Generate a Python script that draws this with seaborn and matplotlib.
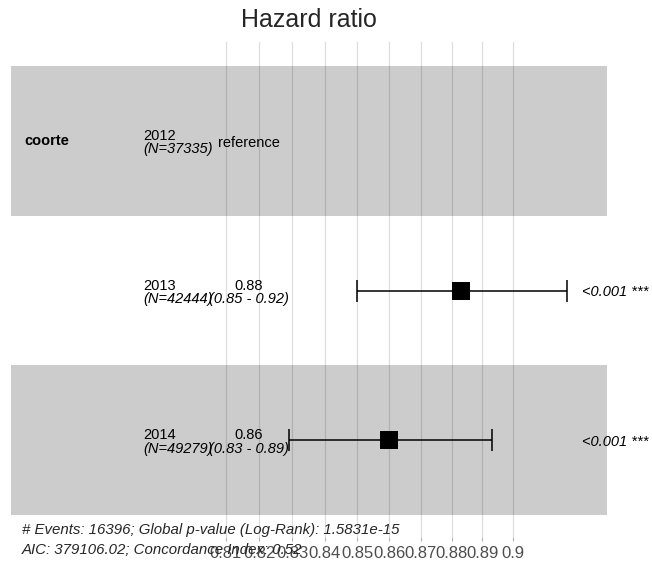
import matplotlib
matplotlib.use("Agg")
import matplotlib.pyplot as plt
import matplotlib.transforms as mtransforms
from matplotlib.patches import Rectangle
from matplotlib.ticker import FixedLocator, FixedFormatter, NullLocator
import numpy as np
import pandas as pd
import seaborn as sns

# dados do grafico
variable = "coorte"
levels = ["2012", "2013", "2014"]
n_obs = [37335, 42444, 49279]
hr = [np.nan, 0.883, 0.860]
ci_low = [np.nan, 0.850, 0.829]
ci_high = [np.nan, 0.918, 0.893]
est_labels = ["reference", "0.88", "0.86"]
ci_labels = ["", "(0.85 - 0.92)", "(0.83 - 0.89)"]
p_labels = ["", "<0.001 ***", "<0.001 ***"]
breaks = [0.81, 0.82, 0.83, 0.84, 0.85, 0.86, 0.87, 0.88, 0.89, 0.9]
break_labels = ["0.81", "0.82", "0.83", "0.84", "0.85", "0.86", "0.87", "0.88", "0.89", "0.9"]
footer = ["# Events: 16396; Global p-value (Log-Rank): 1.5831e-15",
          "AIC: 379106.02; Concordance Index: 0.52"]

sns.set_theme(style="white")
plt.rcParams["font.family"] = ["Liberation Sans", "DejaVu Sans"]

W, H = 652, 569
fig = plt.figure(figsize=(W / 100, H / 100), dpi=100)
ax = fig.add_axes([0, 1 - 537 / H, 1, 495 / H])

rows = np.arange(1, len(levels) + 1)
df = pd.DataFrame({"row": rows, "hr": hr, "lo": ci_low, "hi": ci_high})
df_est = df.dropna()

# faixas cinzas alternadas
trans = mtransforms.blended_transform_factory(ax.transAxes, ax.transData)
for r in rows:
    if r % 2 == 1:
        ax.add_patch(Rectangle((11 / W, r - 0.5), 596 / W, 1, transform=trans,
                               facecolor="black", alpha=0.2, edgecolor="none", zorder=1))

# intervalos de confianca
ax.errorbar(df_est["hr"], df_est["row"],
            xerr=[df_est["hr"] - df_est["lo"], df_est["hi"] - df_est["hr"]],
            fmt="none", ecolor="black", elinewidth=1.1, capsize=7.9, capthick=1.1, zorder=3)
sns.scatterplot(data=df_est, x="hr", y="row", marker="s", s=165, color="black",
                linewidth=0, zorder=4, ax=ax)

ax.set_xscale("log")
ax.set_xlim(0.7455, 0.9472)
ax.set_ylim(1 + (537 - 141) / 149.5, 1 + (42 - 141) / 149.5)
ax.xaxis.set_major_locator(FixedLocator(breaks))
ax.xaxis.set_major_formatter(FixedFormatter(break_labels))
ax.xaxis.set_minor_locator(NullLocator())
ax.set_yticks([])
ax.set_xlabel("")
ax.set_ylabel("")
ax.set_axisbelow(True)
ax.grid(axis="x", color="#DEDEDE", linewidth=0.9)
ax.grid(axis="y", visible=False)
for s in ax.spines.values():
    s.set_visible(False)
ax.tick_params(axis="x", bottom=True, length=3, width=0.8, color="#B3B3B3",
               labelsize=12, labelcolor="#4D4D4D", pad=3.5)
ax.patch.set_alpha(0)

# textos da tabela
px = 1 / 149.5
fs = 10.5
ax.text(24 / W, 1, variable, transform=trans, fontsize=fs, fontweight="bold",
        ha="left", va="center", color="black")
for i, r in enumerate(rows):
    ax.text(143 / W, r - 1 * px, levels[i], transform=trans, fontsize=fs,
            ha="left", va="baseline", color="black")
    ax.text(143 / W, r + 1.5 * px, "(N=%d)" % n_obs[i], transform=trans, fontsize=fs,
            style="italic", ha="left", va="top", color="black")
    if ci_labels[i] == "":
        ax.text(249 / W, r + 2 * px, est_labels[i], transform=trans, fontsize=fs,
                ha="center", va="center", color="black")
    else:
        ax.text(249 / W, r - 1 * px, est_labels[i], transform=trans, fontsize=fs,
                ha="center", va="baseline", color="black")
        ax.text(249 / W, r + 1.5 * px, ci_labels[i], transform=trans, fontsize=fs,
                style="italic", ha="center", va="top", color="black")
    if p_labels[i]:
        ax.text(582 / W, r + 2 * px, p_labels[i], transform=trans, fontsize=10.5,
                style="italic", ha="left", va="center", color="black")

fig.text(309 / W, 1 - 20 / H, "Hazard ratio", fontsize=18, ha="center", va="center")
fig.text(22 / W, 1 - 530 / H, footer[0], fontsize=10.8, style="italic", ha="left", va="center")
fig.text(22 / W, 1 - 550 / H, footer[1], fontsize=10.8, style="italic", ha="left", va="center")

fig.savefig("out.png", dpi=100)
